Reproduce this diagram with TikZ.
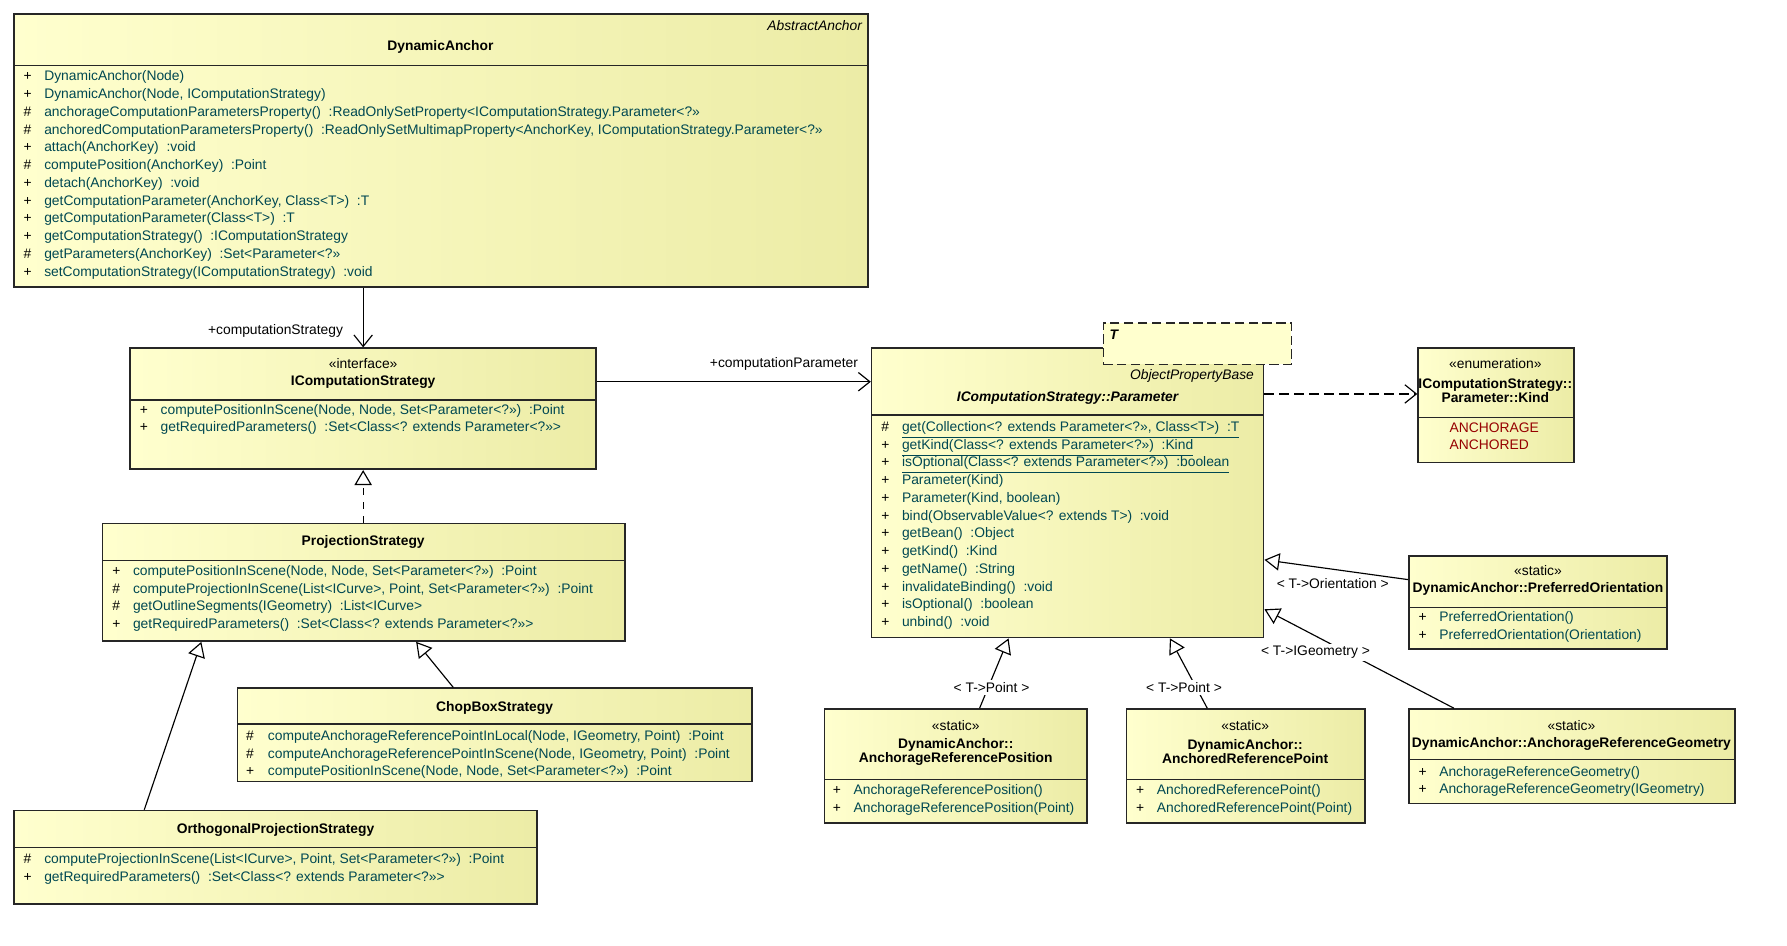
\documentclass[tikz,border=0pt]{standalone}
\usepackage{fontspec}
\setmainfont{Liberation Sans}
\usetikzlibrary{arrows.meta,calc,fit}
\definecolor{boxlight}{RGB}{255,255,206}
\definecolor{boxdark}{RGB}{236,236,166}
\definecolor{memtext}{RGB}{0,72,82}
\definecolor{littext}{RGB}{150,0,0}
\newcommand{\umlfont}{\fontsize{6}{7}\selectfont}
% class box: name, x1, y1, x2, y2, y of divider
\newcommand{\umlclass}[6]{
\node[umlbox, fit={(#2,#3) (#4,#5)}] (#1) {};
\draw[black!85, line width=0.5pt] (#2,#6) -- (#4,#6);
}
% member list: name, x of visibility, x of text, y of first line, list
\newcommand{\umlmembers}[5]{
\foreach [count=\i] \v/\t in {#5} {
  \node[vis] (#1-v\i) at (#2,{#4+15.4*(\i-1)}) {\v};
  \node[member] (#1-m\i) at (#3,{#4+15.4*(\i-1)}) {\t};
}
}
\tikzset{
  umlbox/.style={draw=black!85, line width=0.7pt, left color=boxlight, right color=boxdark, inner sep=0pt},
  member/.style={anchor=west, inner sep=0pt, text height=4.4pt, text depth=1.3pt, font=\umlfont, text=memtext},
  vis/.style={member, text=black},
  title/.style={inner sep=0pt, font=\umlfont\bfseries, align=center},
  stereo/.style={inner sep=0pt, font=\umlfont, align=center},
  lbl/.style={inner sep=0pt, font=\umlfont},
  assoc/.style={line width=0.5pt, -{Straight Barb[length=5pt,width=8pt]}},
  generalize/.style={line width=0.5pt, -{Triangle[open,length=6.5pt,width=7.5pt,fill=white]}},
  realize/.style={generalize, dashed},
}
\begin{document}
\begin{tikzpicture}[x=0.5pt,y=-0.5pt]
\useasboundingbox (0,0) rectangle (1550,820);

% DynamicAnchor
\umlclass{da}{12}{12}{753}{249}{57}
\node[lbl, anchor=east, font=\umlfont\itshape] (da-super) at (748,22) {AbstractAnchor};
\node[title] (da-name) at (382,41) {DynamicAnchor};
\umlmembers{da}{20}{38}{67}{
  +/DynamicAnchor(Node),
  +/{DynamicAnchor(Node, IComputationStrategy)},
  \#/anchorageComputationParametersProperty()~~:ReadOnlySetProperty<IComputationStrategy.Parameter<?>>,
  \#/{anchoredComputationParametersProperty()~~:ReadOnlySetMultimapProperty<AnchorKey, IComputationStrategy.Parameter<?>>},
  +/attach(AnchorKey)~~:void,
  \#/computePosition(AnchorKey)~~:Point,
  +/detach(AnchorKey)~~:void,
  +/{getComputationParameter(AnchorKey, Class<T>)~~:T},
  +/getComputationParameter(Class<T>)~~:T,
  +/getComputationStrategy()~~:IComputationStrategy,
  \#/getParameters(AnchorKey)~~:Set<Parameter<?>>,
  +/setComputationStrategy(IComputationStrategy)~~:void}

% IComputationStrategy
\umlclass{cs}{113}{302}{517}{407}{347}
\node[stereo] (cs-st) at (315,315) {«interface»};
\node[title] (cs-name) at (315,331) {IComputationStrategy};
\umlmembers{cs}{121}{139}{356}{
  +/{computePositionInScene(Node, Node, Set<Parameter<?>>)~~:Point},
  +/getRequiredParameters()~~:Set<Class<? extends Parameter<?>>>}

% ProjectionStrategy
\umlclass{ps}{89}{454}{542}{556}{486}
\node[title] (ps-name) at (315,470) {ProjectionStrategy};
\umlmembers{ps}{97}{115}{496}{
  +/{computePositionInScene(Node, Node, Set<Parameter<?>>)~~:Point},
  \#/{computeProjectionInScene(List<ICurve>, Point, Set<Parameter<?>>)~~:Point},
  \#/getOutlineSegments(IGeometry)~~:List<ICurve>,
  +/getRequiredParameters()~~:Set<Class<? extends Parameter<?>>>}

% ChopBoxStrategy
\umlclass{cb}{206}{597}{652}{678}{628}
\node[title] (cb-name) at (429,614) {ChopBoxStrategy};
\umlmembers{cb}{213}{232}{639}{
  \#/{computeAnchorageReferencePointInLocal(Node, IGeometry, Point)~~:Point},
  \#/{computeAnchorageReferencePointInScene(Node, IGeometry, Point)~~:Point},
  +/{computePositionInScene(Node, Node, Set<Parameter<?>>)~~:Point}}

% OrthogonalProjectionStrategy
\umlclass{op}{12}{703}{466}{784}{735}
\node[title] (op-name) at (239,720) {OrthogonalProjectionStrategy};
\umlmembers{op}{20}{38}{746}{
  \#/{computeProjectionInScene(List<ICurve>, Point, Set<Parameter<?>>)~~:Point},
  +/getRequiredParameters()~~:Set<Class<? extends Parameter<?>>>}

% IComputationStrategy::Parameter
\umlclass{par}{756}{302}{1096}{553}{360}
\node[draw=black!85, line width=0.6pt, dash pattern=on 4pt off 2pt, fill=boxlight, inner sep=0pt, fit={(957,280) (1120,316)}] (par-tpl) {};
\node[lbl, anchor=west, font=\umlfont\bfseries\itshape] (par-T) at (962,290) {T};
\node[lbl, anchor=east, font=\umlfont\itshape] (par-super) at (1088,326) {ObjectPropertyBase};
\node[title, font=\umlfont\bfseries\itshape] (par-name) at (926,345) {IComputationStrategy::Parameter};
\umlmembers{par}{764}{782}{371}{
  \#/{\underline{get(Collection<? extends Parameter<?>>, Class<T>)~~:T}},
  +/\underline{getKind(Class<? extends Parameter<?>>)~~:Kind},
  +/\underline{isOptional(Class<? extends Parameter<?>>)~~:boolean},
  +/Parameter(Kind),
  +/{Parameter(Kind, boolean)},
  +/bind(ObservableValue<? extends T>)~~:void,
  +/getBean()~~:Object,
  +/getKind()~~:Kind,
  +/getName()~~:String,
  +/invalidateBinding()~~:void,
  +/isOptional()~~:boolean,
  +/unbind()~~:void}

% Parameter::Kind
\umlclass{kind}{1230}{302}{1365}{401}{362}
\node[stereo] (kind-st) at (1297,315) {«enumeration»};
\node[title] (kind-name) at (1297,339) {IComputationStrategy::\\[-1pt]Parameter::Kind};
\node[member, text=littext] (kind-l1) at (1257,372) {ANCHORAGE};
\node[member, text=littext] (kind-l2) at (1257,387) {ANCHORED};

% PreferredOrientation
\umlclass{po}{1222}{482}{1446}{563}{527}
\node[stereo] (po-st) at (1334,495) {«static»};
\node[title] (po-name) at (1334,511) {DynamicAnchor::PreferredOrientation};
\umlmembers{po}{1230}{1248}{536}{
  +/PreferredOrientation(),
  +/PreferredOrientation(Orientation)}

% AnchorageReferencePosition
\umlclass{arp}{715}{615}{943}{714}{676}
\node[stereo] (arp-st) at (829,629) {«static»};
\node[title] (arp-name) at (829,652) {DynamicAnchor::\\[-1pt]AnchorageReferencePosition};
\umlmembers{arp}{722}{740}{686}{
  +/AnchorageReferencePosition(),
  +/AnchorageReferencePosition(Point)}

% AnchoredReferencePoint
\umlclass{adp}{977}{615}{1184}{714}{676}
\node[stereo] (adp-st) at (1080,629) {«static»};
\node[title] (adp-name) at (1080,652) {DynamicAnchor::\\[-1pt]AnchoredReferencePoint};
\umlmembers{adp}{985}{1003}{686}{
  +/AnchoredReferencePoint(),
  +/AnchoredReferencePoint(Point)}

% AnchorageReferenceGeometry
\umlclass{arg}{1222}{615}{1505}{697}{659}
\node[stereo] (arg-st) at (1363,629) {«static»};
\node[title] (arg-name) at (1363,645) {DynamicAnchor::AnchorageReferenceGeometry};
\umlmembers{arg}{1230}{1248}{670}{
  +/AnchorageReferenceGeometry(),
  +/AnchorageReferenceGeometry(IGeometry)}

% connectors
\draw[assoc] (da.south -| cs.north) -- (cs.north);
\node[lbl] (lbl-cs) at (239,287) {+computationStrategy};
\coordinate (cs-out) at ($(cs.north east)!0.28!(cs.south east)$);
\draw[assoc] (cs-out) -- (cs-out -| par.west);
\node[lbl] (lbl-par) at (680,316) {+computationParameter};
\draw[realize] (ps.north -| cs.south) -- (cs.south);
\draw[generalize] ($(cb.north west)!0.42!(cb.north east)$) -- ($(ps.south west)!0.6!(ps.south east)$);
\draw[generalize] ($(op.north west)!0.25!(op.north east)$) -- ($(ps.south west)!0.19!(ps.south east)$);
\coordinate (par-out) at ($(par.north east)!0.16!(par.south east)$);
\draw[assoc, dash pattern=on 4pt off 2.5pt] (par-out) -- (par-out -| kind.west);
\draw[generalize] ($(po.north west)!0.26!(po.south west)$) -- ($(par.north east)!0.73!(par.south east)$);
\node[lbl] (lbl-po) at (1156,506) {< T->Orientation >};
\draw[generalize] ($(arg.north west)!0.14!(arg.north east)$) -- ($(par.north east)!0.9!(par.south east)$);
\node[lbl, fill=white, inner sep=1pt] (lbl-arg) at (1141,566) {< T->IGeometry >};
\draw[generalize] ($(arp.north west)!0.59!(arp.north east)$) -- ($(par.south west)!0.35!(par.south east)$);
\node[lbl, fill=white, inner sep=1pt] (lbl-arp) at (860,596) {< T->Point >};
\draw[generalize] ($(adp.north west)!0.34!(adp.north east)$) -- ($(par.south west)!0.76!(par.south east)$);
\node[lbl, fill=white, inner sep=1pt] (lbl-adp) at (1027,596) {< T->Point >};
\end{tikzpicture}
\end{document}
